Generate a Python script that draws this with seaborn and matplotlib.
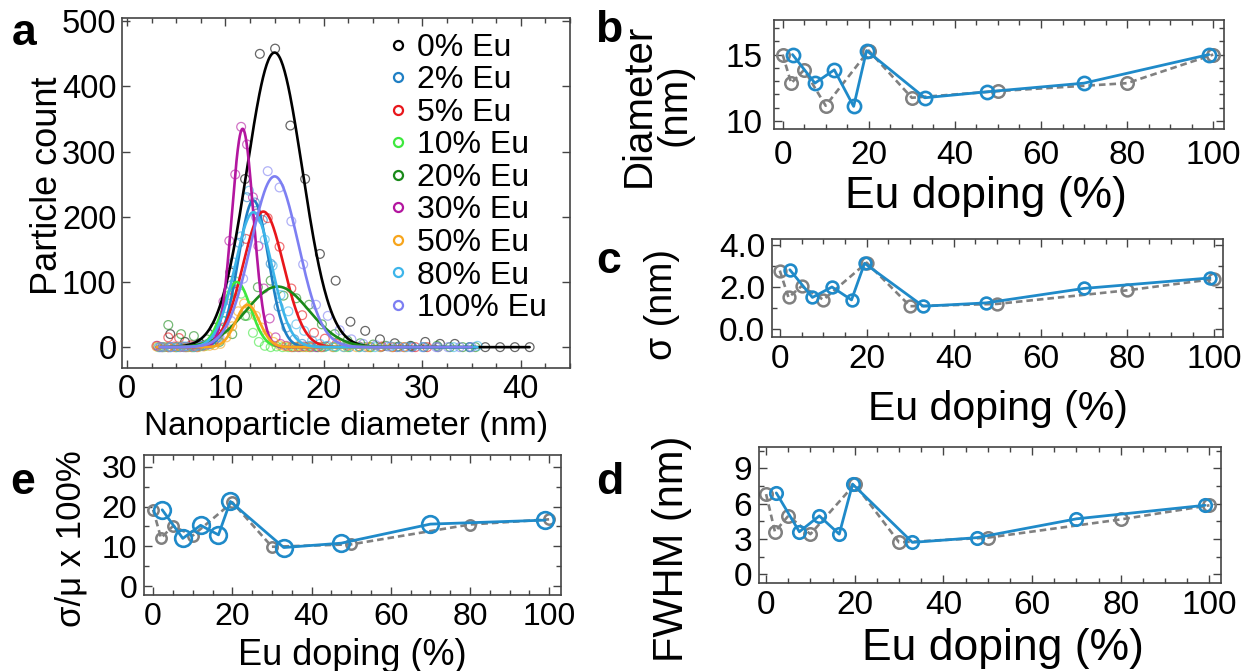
import numpy as np
import matplotlib
matplotlib.use("Agg")
import matplotlib.pyplot as plt
from matplotlib.lines import Line2D
from matplotlib.ticker import MultipleLocator, FormatStrFormatter
import seaborn as sns

# ---------------- data ----------------
series_labels = ["0% Eu", "2% Eu", "5% Eu", "10% Eu", "20% Eu", "30% Eu", "50% Eu", "80% Eu", "100% Eu"]
series_colors = ["#000000", "#1f7fc4", "#e8161b", "#3ee83e", "#1a8a1a", "#b3169f", "#f7a51c", "#3db5ea", "#7d7ff2"]

# histogram points (diameter nm, count)
x_0 = [4.4, 5.9, 7.4, 8.9, 10.5, 12.0, 13.5, 15.05, 16.6, 18.1, 19.6, 21.2, 22.7, 24.2, 25.7, 27.2, 28.8, 30.3, 31.8, 33.3, 34.8, 36.4, 37.9, 39.4, 40.9]
y_0 = [20, 8, 6, 30, 115, 258, 450, 458, 340, 258, 143, 102, 39, 25, 12, 6, 2, 8, 5, 5, 0, 0, 0, 0, 0]
x_2 = [3.4, 4.2, 5.0, 5.8, 6.6, 7.4, 8.2, 9.0, 9.8, 10.6, 11.4, 12.2, 13.0, 13.8, 14.6, 15.4, 16.2, 17.0, 17.8, 18.6, 19.4, 20.2, 21.0, 22.6, 24.2, 25.8, 27.4, 29.0]
y_2 = [0, 0, 0, 0, 0, 2, 5, 12, 40, 95, 160, 230, 222, 195, 128, 62, 30, 12, 5, 2, 0, 1, 0, 0, 0, 0, 0, 0]
x_5 = [3.1, 4.2, 5.3, 6.5, 7.6, 8.7, 9.8, 10.9, 12.1, 13.2, 14.3, 15.5, 16.7, 17.8, 19.0, 20.1, 21.3, 22.4, 23.6, 24.7, 25.9, 27.0, 28.2, 29.3, 30.5, 31.6]
y_5 = [2, 15, 14, 3, 2, 8, 30, 85, 166, 205, 198, 154, 90, 49, 22, 13, 5, 2, 1, 0, 1, 0, 0, 0, 0, 0]
x_10 = [3.2, 3.8, 4.4, 5.0, 5.6, 6.2, 6.8, 7.4, 8.0, 8.6, 9.2, 9.8, 10.4, 11.0, 11.6, 12.2, 12.8, 13.4, 14.0, 14.6, 15.2, 15.8, 16.4, 17.0, 17.6, 18.2, 18.8, 19.4, 20.0, 21.2, 22.4, 23.6, 24.8]
y_10 = [0, 0, 0, 0, 1, 0, 0, 1, 2, 5, 15, 40, 80, 101, 82, 48, 22, 8, 2, 0, 1, 0, 0, 0, 0, 0, 0, 0, 0, 0, 0, 0, 0]
x_20 = [4.2, 5.5, 6.8, 8.1, 9.4, 10.7, 12.0, 13.3, 14.6, 15.9, 17.2, 18.5, 19.8, 21.1, 22.4, 23.7, 25.0, 26.3, 27.6, 28.9, 30.2, 31.5, 32.8, 34.1, 35.4]
y_20 = [34, 20, 17, 12, 8, 20, 48, 92, 102, 79, 75, 65, 35, 20, 10, 6, 4, 2, 1, 1, 0, 2, 0, 0, 0]
x_30 = [3.0, 3.6, 4.2, 4.8, 5.4, 6.0, 6.5, 7.1, 7.7, 8.3, 8.8, 9.3, 9.8, 10.4, 11.0, 11.6, 12.2, 12.8, 13.35, 13.9, 14.5, 15.1, 15.6, 16.2, 16.8, 17.4, 18.0, 18.6, 19.2, 19.8]
y_30 = [2, 0, 0, 1, 0, 0, 1, 0, 2, 5, 8, 20, 70, 163, 265, 338, 311, 230, 155, 90, 44, 15, 5, 2, 0, 0, 1, 0, 0, 0]
x_50 = [3.0, 3.6, 4.2, 4.8, 5.4, 6.0, 6.6, 7.2, 7.8, 8.4, 8.9, 9.5, 10.1, 10.7, 11.3, 11.9, 12.5, 13.1, 13.7, 14.3, 14.9, 15.5, 16.1, 16.7, 17.3, 17.9, 18.5, 19.7, 20.9, 22.1, 23.3, 24.5, 25.7, 26.9, 28.1]
y_50 = [1, 0, 0, 0, 1, 0, 0, 0, 1, 2, 3, 5, 15, 32, 55, 67, 63, 48, 30, 17, 8, 3, 1, 0, 1, 0, 0, 0, 0, 0, 0, 0, 0, 0, 0]
x_80 = [3.6, 4.4, 5.2, 6.0, 6.8, 7.6, 8.4, 9.2, 10.0, 10.8, 11.6, 12.4, 13.2, 14.0, 14.8, 15.6, 16.4, 17.2, 18.0, 18.8, 19.6, 20.4, 21.2, 22.0, 23.6, 25.2, 26.8, 28.4, 30.0, 31.6, 33.2, 34.8, 35.6]
y_80 = [0, 0, 0, 1, 0, 2, 5, 15, 60, 130, 170, 240, 205, 165, 125, 80, 55, 35, 25, 10, 5, 2, 1, 0, 0, 0, 1, 0, 0, 0, 0, 0, 2]
x_100 = [3.3, 4.5, 5.7, 7.0, 8.2, 9.4, 10.6, 11.8, 13.1, 14.3, 15.5, 16.7, 17.9, 19.2, 20.4, 21.6, 22.8, 24.0, 25.3, 26.5, 27.7, 28.9, 30.1, 31.4, 32.6, 33.8, 35.0]
y_100 = [0, 0, 1, 2, 4, 15, 40, 105, 200, 270, 245, 193, 127, 65, 48, 26, 12, 5, 3, 1, 0, 0, 0, 0, 0, 0, 0]

hist_x = [x_0, x_2, x_5, x_10, x_20, x_30, x_50, x_80, x_100]
hist_y = [y_0, y_2, y_5, y_10, y_20, y_30, y_50, y_80, y_100]

# Gaussian fit peak heights (counts)
fit_amplitude = [452, 225, 208, 100, 93, 335, 65, 207, 262]

# panels b-e: nominal (grey dashed) and measured (blue) Eu doping
doping_nominal = [0, 2, 5, 10, 20, 30, 50, 80, 100]
doping_measured = [2.3, 7.5, 12, 16.5, 19.5, 33, 47.5, 70, 99]
diam_nominal = [15.0, 12.85, 13.85, 11.15, 15.3, 11.75, 12.25, 12.85, 15.0]
diam_measured = [15.0, 12.85, 13.85, 11.1, 15.3, 11.75, 12.2, 12.85, 15.0]
sigma_nominal = [2.8, 1.52, 2.06, 1.41, 3.18, 1.10, 1.21, 1.86, 2.40]
sigma_measured = [2.84, 1.52, 2.02, 1.40, 3.15, 1.10, 1.26, 1.95, 2.45]
cv_nominal = [19.2, 12.1, 15.1, 12.7, 21.1, 9.9, 10.5, 15.5, 16.8]
cv_measured = [19.2, 12.0, 15.3, 12.9, 21.3, 9.7, 10.8, 15.6, 16.6]
fwhm_nominal = [6.8, 3.6, 4.95, 3.4, 7.65, 2.7, 3.1, 4.65, 5.85]
fwhm_measured = [6.9, 3.6, 4.95, 3.4, 7.65, 2.7, 3.1, 4.7, 5.85]

# ---------------- style ----------------
sns.set_theme(style="ticks")
plt.rcParams["font.family"] = ["Liberation Sans", "DejaVu Sans"]
plt.rcParams["axes.edgecolor"] = "#444444"
plt.rcParams["axes.linewidth"] = 1.2
plt.rcParams["text.color"] = "black"
plt.rcParams["axes.labelcolor"] = "black"
plt.rcParams["xtick.color"] = "#444444"
plt.rcParams["ytick.color"] = "#444444"
plt.rcParams["xtick.labelcolor"] = "black"
plt.rcParams["ytick.labelcolor"] = "black"

W, H = 1251, 671
fig = plt.figure(figsize=(W / 100, H / 100), dpi=100)
fig.patch.set_facecolor("white")


def ax_at(l, t, r, b):
    return fig.add_axes([l / W, 1 - b / H, (r - l) / W, (b - t) / H])


def style_ticks(ax, size, pad=4):
    ax.tick_params(which="both", direction="in", top=True, right=True, labelsize=size, pad=pad)
    ax.tick_params(which="major", length=6, width=1.0)
    ax.tick_params(which="minor", length=3.5, width=1.0)


# ---------------- panel a ----------------
axa = ax_at(122, 18, 570, 368)
for xs, ys, col in zip(hist_x, hist_y, series_colors):
    sns.scatterplot(x=xs, y=ys, ax=axa, marker="o", s=40, facecolors="none",
                    edgecolor=col, linewidth=0.9, alpha=0.6, legend=False)
for xs, col, amp, mu, sd in zip(hist_x, series_colors, fit_amplitude, diam_nominal, sigma_nominal):
    xf = np.linspace(min(xs), max(xs), 400)
    yf = amp * np.exp(-(xf - mu) ** 2 / (2 * sd ** 2))
    sns.lineplot(x=xf, y=yf, ax=axa, color=col, linewidth=1.9, estimator=None, sort=False, legend=False)

axa.set_xlim(-0.5, 45)
axa.set_ylim(-32, 505)
axa.xaxis.set_major_locator(MultipleLocator(10))
axa.xaxis.set_minor_locator(MultipleLocator(2.5))
axa.yaxis.set_major_locator(MultipleLocator(100))
style_ticks(axa, 23.5, pad=4)
axa.set_xlabel("Nanoparticle diameter (nm)", fontsize=24)
axa.set_ylabel("Particle count", fontsize=26)
axa.xaxis.set_label_coords(0.5, -0.122)
axa.yaxis.set_label_coords(-0.128, 0.52)
handles = [Line2D([], [], linestyle="none", marker="o", markersize=6.5, markerfacecolor="none",
                  markeredgecolor=c, markeredgewidth=1.6) for c in series_colors]
axa.legend(handles, series_labels, loc="upper left", bbox_to_anchor=(0.594, 0.958), frameon=False,
           fontsize=23, handlelength=0.6, handletextpad=0.3, labelspacing=0.08,
           borderpad=0, borderaxespad=0)


def doping_panel(ax, y_nom, y_meas, ms_nom, ms_meas, ticksize, pad=5):
    sns.lineplot(x=doping_nominal, y=y_nom, ax=ax, color="#808080", linewidth=1.9,
                 linestyle=(0, (2.5, 1.5)), marker="o", markersize=ms_nom, markerfacecolor="none",
                 markeredgecolor="#808080", markeredgewidth=1.8, estimator=None, legend=False)
    sns.lineplot(x=doping_measured, y=y_meas, ax=ax, color="#1f8ac9", linewidth=2.0,
                 marker="o", markersize=ms_meas, markerfacecolor="none",
                 markeredgecolor="#1f8ac9", markeredgewidth=1.9, estimator=None, legend=False)
    ax.xaxis.set_major_locator(MultipleLocator(20))
    ax.xaxis.set_minor_locator(MultipleLocator(5))
    style_ticks(ax, ticksize, pad=pad)


# ---------------- panel b ----------------
axb = ax_at(774, 20, 1224, 129)
doping_panel(axb, diam_nominal, diam_measured, 9, 9.5, 24, pad=8)
axb.set_xlim(-2, 102.5)
axb.set_ylim(9.4, 17.6)
axb.yaxis.set_major_locator(MultipleLocator(5))
axb.yaxis.set_minor_locator(MultipleLocator(1))
axb.set_xlabel("Eu doping (%)", fontsize=32)
axb.set_ylabel("Diameter\n(nm)", fontsize=29, linespacing=0.9)
axb.xaxis.set_label_coords(0.471, -0.43)
axb.yaxis.set_label_coords(-0.18, 0.22)

# ---------------- panel c ----------------
axc = ax_at(772, 239, 1223, 337)
doping_panel(axc, sigma_nominal, sigma_measured, 8.5, 8.5, 24)
axc.set_xlim(-1.8, 102)
axc.set_ylim(-0.37, 4.31)
axc.yaxis.set_major_locator(MultipleLocator(2))
axc.yaxis.set_minor_locator(MultipleLocator(1))
axc.yaxis.set_major_formatter(FormatStrFormatter("%.1f"))
axc.set_xlabel("Eu doping (%)", fontsize=29.5)
axc.set_ylabel("σ (nm)", fontsize=27)
axc.xaxis.set_label_coords(0.5, -0.54)
axc.yaxis.set_label_coords(-0.205, 0.33)

# ---------------- panel e ----------------
axe = ax_at(144, 455, 561, 595)
doping_panel(axe, cv_nominal, cv_measured, 7.5, 12, 23)
axe.set_xlim(-2.3, 103)
axe.set_ylim(-2.25, 33)
axe.yaxis.set_major_locator(MultipleLocator(10))
axe.yaxis.set_minor_locator(MultipleLocator(5))
axe.set_xlabel("Eu doping (%)", fontsize=26)
axe.set_ylabel("σ/μ x 100%", fontsize=25)
axe.xaxis.set_label_coords(0.5, -0.31)
axe.yaxis.set_label_coords(-0.135, 0.40)

# ---------------- panel d ----------------
axd = ax_at(759, 447, 1221, 583)
doping_panel(axd, fwhm_nominal, fwhm_measured, 9, 9, 24)
axd.set_xlim(-1.6, 102.6)
axd.set_ylim(-0.75, 10.8)
axd.yaxis.set_major_locator(MultipleLocator(3))
axd.yaxis.set_minor_locator(MultipleLocator(1.5))
axd.set_xlabel("Eu doping (%)", fontsize=32)
axd.set_ylabel("FWHM (nm)", fontsize=30)
axd.xaxis.set_label_coords(0.528, -0.33)
axd.yaxis.set_label_coords(-0.145, 0.25)

# ---------------- panel letters ----------------
for letter, px, py in [("a", 12, 45), ("b", 595, 42), ("c", 596, 273), ("e", 10, 494), ("d", 596, 494)]:
    fig.text(px / W, 1 - py / H, letter, fontsize=32, fontweight="bold", ha="left", va="baseline")

fig.savefig("out.png", dpi=100, facecolor="white")
